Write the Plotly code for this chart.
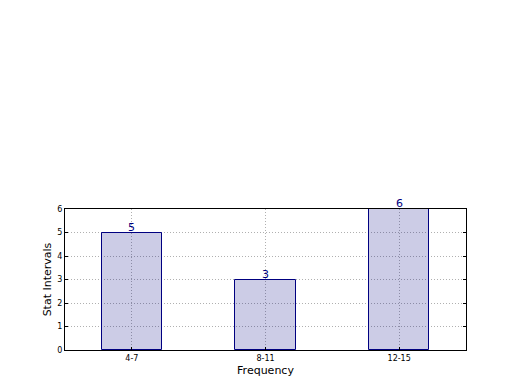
import plotly.graph_objects as go

categories = ["4-7", "8-11", "12-15"]
values = [5, 3, 6]
y_ticks = [0, 1, 2, 3, 4, 5, 6]

fig = go.Figure()
fig.add_trace(go.Bar(
    x=list(range(len(categories))), y=values, width=0.45,
    marker=dict(color="rgba(0,0,128,0.2)", line=dict(color="navy", width=1)),
    showlegend=False,
))
for i, v in enumerate(values):
    fig.add_annotation(x=i, y=v, text=str(v), showarrow=False, yanchor="bottom",
                       yshift=-3, font=dict(family="DejaVu Sans", size=11, color="navy"))

fig.update_layout(
    width=520, height=390,
    margin=dict(l=57, r=62, t=201, b=48),
    paper_bgcolor="white", plot_bgcolor="white",
    font=dict(family="DejaVu Sans", color="black"),
    bargap=0,
)
fig.update_xaxes(
    range=[-0.5, 2.5], tickvals=list(range(len(categories))), ticktext=categories,
    tickfont=dict(size=8), ticks="inside", ticklen=3, tickcolor="black",
    showline=True, linecolor="black", linewidth=1, mirror=True,
    showgrid=True, gridcolor="#b0b0b0", griddash="1px,2px", gridwidth=1,
    title=dict(text="Frequency", font=dict(size=11), standoff=4), zeroline=False,
)
fig.update_yaxes(
    range=[0, 6], tickvals=y_ticks, tickfont=dict(size=8),
    ticks="inside", ticklen=3, tickcolor="black",
    showline=True, linecolor="black", linewidth=1, mirror="ticks",
    showgrid=True, gridcolor="#b0b0b0", griddash="1px,2px", gridwidth=1,
    title=dict(text="Stat Intervals", font=dict(size=11), standoff=3), zeroline=False,
)
fig.write_html("out.html")
